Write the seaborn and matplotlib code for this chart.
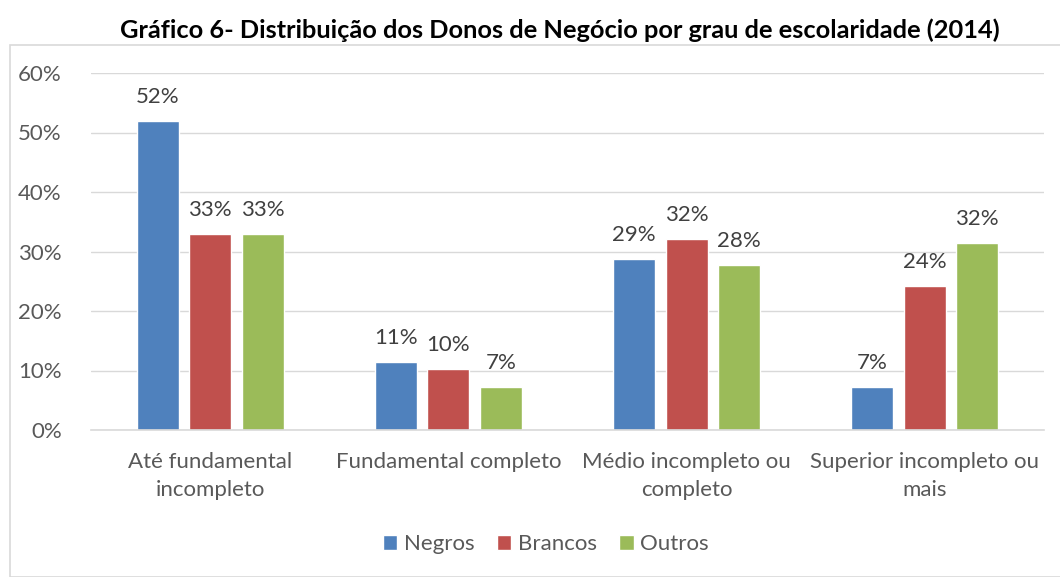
import matplotlib
matplotlib.use("Agg")
import matplotlib.pyplot as plt
import seaborn as sns
import pandas as pd
from matplotlib.patches import Rectangle

categories = ["Até fundamental\nincompleto", "Fundamental completo",
              "Médio incompleto ou\ncompleto", "Superior incompleto ou\nmais"]
series = ["Negros", "Brancos", "Outros"]
negros = [52.0, 11.4, 28.8, 7.3]
brancos = [33.0, 10.3, 32.1, 24.2]
outros = [33.0, 7.2, 27.8, 31.5]
labels_negros = ["52%", "11%", "29%", "7%"]
labels_brancos = ["33%", "10%", "32%", "24%"]
labels_outros = ["33%", "7%", "28%", "32%"]
yticks = [0, 10, 20, 30, 40, 50, 60]
title = "Gráfico 6- Distribuição dos Donos de Negócio por grau de escolaridade (2014)"

colors = ["#4F81BD", "#C0504D", "#9BBB59"]

rows = []
for s, vals in zip(series, [negros, brancos, outros]):
    for c, v in zip(categories, vals):
        rows.append({"cat": c, "serie": s, "val": v})
df = pd.DataFrame(rows)

sns.set_theme(style="white")
plt.rcParams["font.family"] = ["Lato", "DejaVu Sans"]

fs = 16
fig = plt.figure(figsize=(10.6, 5.77), dpi=100)
ax = fig.add_axes([91/1060, 1 - 430/577, (1044 - 91)/1060, (430 - 73)/577])

sns.barplot(data=df, x="cat", y="val", hue="serie", order=categories,
            hue_order=series, palette=colors, width=0.66, gap=0.2,
            saturation=1, ax=ax, legend=True)

ax.set_ylim(0, 60)
ax.set_yticks(yticks)
ax.set_yticklabels([f"{t}%" for t in yticks], color="#595959", fontsize=fs)
ax.set_xlim(-0.5, len(categories) - 0.5)
ax.set_xlabel("")
ax.set_ylabel("")
ax.tick_params(axis="x", colors="#595959", labelsize=fs, length=0, pad=16)
ax.tick_params(axis="y", length=0, pad=21)
for lab in ax.get_xticklabels():
    lab.set_linespacing(1.5)
ax.grid(axis="y", color="#D9D9D9", linewidth=1)
ax.set_axisbelow(True)
for sp in ["top", "right", "left"]:
    ax.spines[sp].set_visible(False)
ax.spines["bottom"].set_color("#D9D9D9")
ax.spines["bottom"].set_linewidth(1.2)

all_labels = [labels_negros, labels_brancos, labels_outros]
for cont, labs in zip(ax.containers, all_labels):
    ax.bar_label(cont, labels=labs, padding=10, fontsize=fs, color="#404040")

leg = ax.legend(loc="center", bbox_to_anchor=((546 - 91)/953, -(544 - 430)/357), ncol=3,
                frameon=False, fontsize=fs, handlelength=0.65, handleheight=0.65,
                handletextpad=0.3, columnspacing=1.0)
for t in leg.get_texts():
    t.set_color("#595959")

fig.text(560/1060, 1 - 30/577, title, ha="center", va="center",
         fontsize=18.3, fontweight="bold", color="black")

fig.patches.append(Rectangle((10/1060, 0), 1 - 10/1060 + 0.01, 1 - 45/577,
                             transform=fig.transFigure, fill=False,
                             edgecolor="#D9D9D9", linewidth=1.2))

fig.savefig("out.png", dpi=100)
